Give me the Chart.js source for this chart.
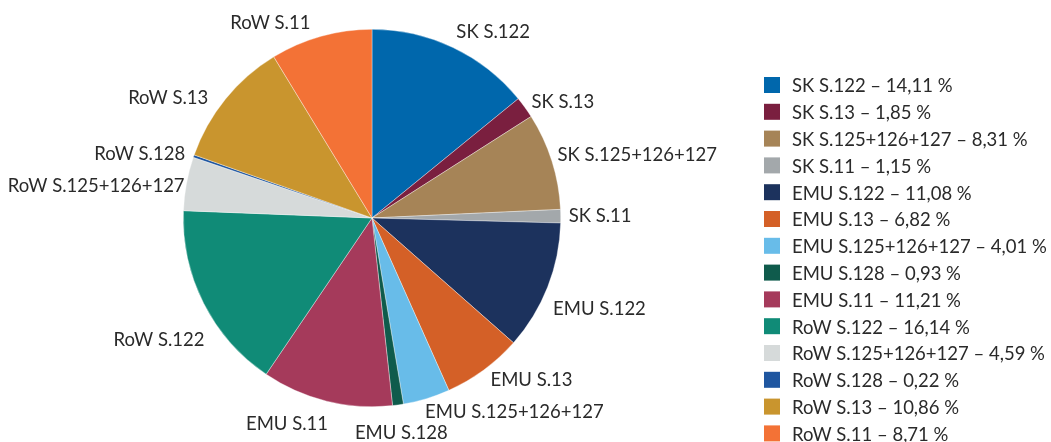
<!DOCTYPE html>
<html>
<head>
<meta charset="utf-8">
<script src="https://cdn.jsdelivr.net/npm/chart.js@4"></script>
<style>
  html, body { margin: 0; padding: 0; background: #fff; }
  #wrap { width: 1051px; height: 442px; }
</style>
</head>
<body>
<div id="wrap"><canvas id="sectors-chart" width="1051" height="442"></canvas></div>
<script>
const sectors = [
    'SK S.122', 'SK S.13', 'SK S.125+126+127', 'SK S.11',
    'EMU S.122', 'EMU S.13', 'EMU S.125+126+127', 'EMU S.128', 'EMU S.11',
    'RoW S.122', 'RoW S.125+126+127', 'RoW S.128', 'RoW S.13', 'RoW S.11'
];
const shares = [14.11, 1.85, 8.31, 1.15, 11.08, 6.82, 4.01, 0.93, 11.21, 16.14, 4.59, 0.22, 10.86, 8.71];
const colors = [
    '#0067ac', '#7a1f3f', '#a68457', '#a3a8ab',
    '#1c325d', '#d46027', '#68bce9', '#0f5b4c', '#a53a5b',
    '#108b77', '#d6dada', '#1f56a0', '#c9952e', '#f37236'
];
// small hand nudges for the outside labels so they sit clear of each other
const labelShift = [
    [0, 3], [0, 6], [-2, 0], [0, 0], [-2, 9], [2, -12], [8, -12],
    [-17, 2], [-8, -3], [8, 22], [6, 6], [-1, 4], [-11, 12], [-16, 6]
];

const FONT = '18.5px Lato, "Noto Sans", sans-serif';
const TEXT = '#2a2a2a';

const sliceLabels = {
    id: 'sliceLabels',
    afterDatasetsDraw(chart) {
        const ctx = chart.ctx;
        const arcs = chart.getDatasetMeta(0).data;
        ctx.save();
        ctx.font = FONT;
        ctx.fillStyle = TEXT;
        ctx.textBaseline = 'middle';
        ctx.textAlign = 'center';
        arcs.forEach((arc, i) => {
            const p = arc.getProps(['x', 'y', 'startAngle', 'endAngle', 'outerRadius'], true);
            const mid = (p.startAngle + p.endAngle) / 2;
            const dx = Math.cos(mid), dy = Math.sin(mid);
            const r = p.outerRadius + 8;
            const w = ctx.measureText(sectors[i]).width;
            const sx = Math.max(-1, Math.min(1, dx * 3));
            const x = p.x + r * dx + sx * w / 2 + labelShift[i][0];
            const y = p.y + r * dy + dy * 12 + (dy > 0 ? 6 : 0) + labelShift[i][1];
            ctx.fillText(sectors[i], x, y);
        });
        ctx.restore();
    }
};

const sideLegend = {
    id: 'sideLegend',
    afterDraw(chart) {
        const ctx = chart.ctx;
        ctx.save();
        ctx.font = FONT;
        ctx.textBaseline = 'middle';
        ctx.textAlign = 'left';
        sectors.forEach((name, i) => {
            const cy = 85 + i * 26.8;
            ctx.fillStyle = colors[i];
            ctx.fillRect(764, cy - 8, 16, 16);
            ctx.fillStyle = TEXT;
            const txt = name + ' \u2013 ' + shares[i].toFixed(2).replace('.', ',') + ' %';
            ctx.fillText(txt, 792, cy + 1.5);
        });
        ctx.restore();
    }
};

new Chart(document.getElementById('sectors-chart').getContext('2d'), {
    type: 'pie',
    data: {
        labels: sectors,
        datasets: [{
            data: shares,
            backgroundColor: colors,
            borderColor: 'rgba(255,255,255,0.6)',
            borderWidth: 0.6
        }]
    },
    options: {
        responsive: false,
        animation: false,
        layout: { padding: { left: 183, top: 29, right: 490, bottom: 35 } },
        plugins: {
            legend: { display: false },
            tooltip: { enabled: false }
        }
    },
    plugins: [sliceLabels, sideLegend]
});
</script>
</body>
</html>
